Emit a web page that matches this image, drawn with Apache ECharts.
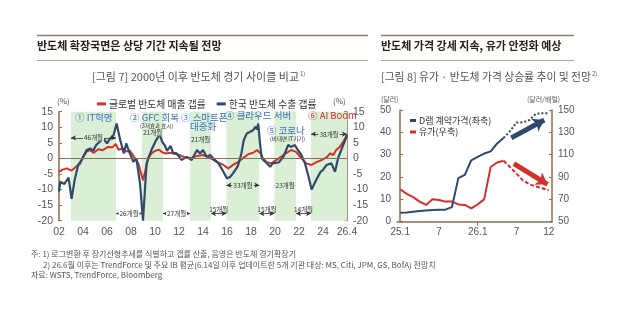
<!DOCTYPE html>
<html>
<head>
<meta charset="utf-8">
<script src="https://cdn.jsdelivr.net/npm/echarts@6/dist/echarts.min.js"></script>
<style>
  html, body { margin: 0; padding: 0; background: #fff; }
  #chart { width: 640px; height: 333px; }
</style>
</head>
<body>
<div id="chart"></div>
<script>
  // [그림 7] 반도체 경기 사이클 : x값은 연도(소수)
  const krX = [2002.0, 2002.1, 2002.45, 2002.8, 2003.05, 2003.3, 2003.6, 2003.9, 2004.3, 2004.6, 2004.85, 2005.1, 2005.4, 2005.7, 2006.0, 2006.25, 2006.55, 2006.8, 2007.1, 2007.4, 2007.6, 2007.9, 2008.2, 2008.45, 2008.75, 2009.0, 2009.3, 2009.7, 2010.1, 2010.4, 2010.6, 2010.8, 2011.0, 2011.3, 2011.5, 2011.8, 2012.2, 2012.65, 2013.05, 2013.5, 2013.75, 2014.0, 2014.3, 2014.6, 2014.85, 2015.3, 2015.7, 2016.0, 2016.25, 2016.5, 2016.9, 2017.2, 2017.4, 2017.65, 2017.9, 2018.2, 2018.35, 2018.5, 2018.6, 2018.75, 2018.9, 2019.2, 2019.6, 2019.8, 2020.3, 2020.7, 2021.1, 2021.35, 2021.65, 2021.9, 2022.2, 2022.5, 2022.8, 2023.05, 2023.5, 2023.8, 2024.0, 2024.3, 2024.7, 2025.0, 2025.25, 2025.55, 2025.8, 2026.0]
  const krGap = [-10.7, -7.5, -8.2, -6.2, -13, -7, -2.1, -0.5, 2.7, 3.2, 2.5, 4.3, 5.4, 6.4, 4.8, 6.4, 7.5, 11.2, 5.9, 1.6, 4.8, 1.6, -1.1, 0, -8, -20, -1.6, 2.7, 5.9, 7.7, 5.3, 4.3, 2.4, 4.0, 1.8, 1.6, -0.5, 0.5, -0.5, 2.7, 1.6, 2.7, 0.5, 1.1, 0, -1.6, -4.3, -6.4, -6, -4.8, -2.5, 1.6, 5.9, 8, 8.5, 9.1, 10.2, 9.3, 11.2, 4.8, 0, -1.1, -2.7, -1.6, -1.3, 0.5, 4.3, 3.7, 4.3, 2.7, 1.1, -1.6, -5.9, -10, -6.4, -4.3, -3.7, -2.1, -1.6, -4.3, 0, 3, 5.4, 7.5]
  const glX = [2002.0, 2002.3, 2002.65, 2003.05, 2003.5, 2003.75, 2004.0, 2004.3, 2004.55, 2004.9, 2005.3, 2005.6, 2006.1, 2006.45, 2006.75, 2006.95, 2007.3, 2007.6, 2007.9, 2008.25, 2008.6, 2009.0, 2009.25, 2009.45, 2009.75, 2010.05, 2010.35, 2010.6, 2010.9, 2011.25, 2011.7, 2012.1, 2012.5, 2013.0, 2013.5, 2014.0, 2014.45, 2014.8, 2015.15, 2015.7, 2016.1, 2016.5, 2016.95, 2017.3, 2017.8, 2018.2, 2018.5, 2018.8, 2019.0, 2019.3, 2019.7, 2020.0, 2020.5, 2020.9, 2021.35, 2021.75, 2022.2, 2022.6, 2023.05, 2023.5, 2023.9, 2024.3, 2024.6, 2024.85, 2025.1, 2025.4, 2025.7, 2026.0]
  const glGap = [-4.3, -3.6, -3.2, -3.9, -2.4, -1.8, 0.5, 2.2, 2.7, 1.8, 3.0, 2.6, 3.7, 3.6, 4.6, 2.8, 3.2, 2.2, 2.5, 0.5, -1.5, -7, -3, 0.3, 1.8, 2.5, 2.8, 2.0, 1.6, 1.8, 1.4, 1.0, 0.3, 0.1, 0.8, 1.1, 0.4, -0.3, -1.1, -2.1, -3.2, -2.1, -1.1, 0, 1.4, 1.8, 2.7, 1.6, 0, -1.2, -1.6, -0.8, 0.5, 1.6, 2.7, 2.1, 0, -1.6, -2.1, -1.1, -0.5, 0.3, 1.6, 1.1, 2.7, 3.7, 5.4, 7.5]

  const cycleStart = [2003.0, 2008.92, 2012.92, 2015.95, 2019.95, 2023.0]
  const cycleEnd = [2006.75, 2010.67, 2014.67, 2018.7, 2021.75, 2026.0]
  const upMonths = [46, 21, 21, 33, 23, 38]
  const downMonths = [26, 27, 15, 15, 14]
  const yearTicks = [2002, 2004, 2006, 2008, 2010, 2012, 2014, 2016, 2018, 2020, 2022, 2024, 2026]
  const yearLabels = ['02', '04', '06', '08', '10', '12', '14', '16', '18', '20', '22', '24', '26.4']

  // [그림 8] 유가 · D램 가격 (월별, 25.1 ~ 26.12)
  const months = ['25.1', '25.2', '25.3', '25.4', '25.5', '25.6', '25.7', '25.8', '25.9', '25.10', '25.11', '25.12',
    '26.1', '26.2', '26.3', '26.4', '26.5', '26.6', '26.7', '26.8', '26.9', '26.10', '26.11', '26.12']
  const dramPrice = [4.0, 4.1, 4.5, 4.8, 5.0, 5.2, 5.3, 5.4, 6.5, 19.5, 21, 27.5, 29, 30.5, 31.5, 35, 37.5, 40.5, 44.4, 44.5, 45.5, 48.3, 48.5, 48.5]
  const oilPrice = [79, 75, 72, 68, 65, 70, 69.5, 68, 68, 65.5, 65, 62, 65.5, 70, 99, 103, 104.5, 99, 93, 87, 83.5, 81.5, 80, 78]
  const monthTicks = [0, 6, 12, 18, 23]
  const monthLabels = ['25.1', '7', '26.1', '7', '12']
  const forecastFrom = 16

  const KR = 'Noto Sans CJK KR'
  const NUM = 'Liberation Sans, Arial, sans-serif'
  const BROWN = '#8d6e4e'
  const NAVY = '#2f4a6a'
  const RED = '#d1302b'
  const GREEN = '#dbeed6'
  const BLUE = '#3a72c2'

  // 화살표 위치(레이아웃)
  const upArrowY = [6.6, 8.2, 6.2, -8.6, -8.6, 7.8]
  const downArrowY = -17.7

  const pairs = (xs, ys) => xs.map((x, i) => [x, ys[i]])
  const idxPairs = (ys) => ys.map((v, i) => [i, v])

  const midLabel = { position: 'middle', distance: 0, verticalAlign: 'middle' }
  const arrowLines = []
  upMonths.forEach((m, i) => {
    arrowLines.push([
      { coord: [cycleStart[i], upArrowY[i]], label: Object.assign({ formatter: m + '개월', backgroundColor: GREEN }, midLabel) },
      { coord: [cycleEnd[i], upArrowY[i]] }
    ])
  })
  downMonths.forEach((m, i) => {
    const above = i >= 2
    arrowLines.push([
      { coord: [cycleEnd[i], downArrowY],
        label: above ? { formatter: m + '개월', position: 'insideMiddleTop', distance: 1, backgroundColor: 'transparent' }
                     : Object.assign({ formatter: m + '개월', backgroundColor: '#fff' }, midLabel) },
      { coord: [cycleStart[i + 1], downArrowY] }
    ])
  })

  const chart = echarts.init(document.getElementById('chart'))

  const txt = (x, y, text, style) => ({
    type: 'text', left: x, top: y, z: 100,
    style: Object.assign({ text: text, font: '10px ' + KR, fill: '#333' }, style)
  })
  const hline = (x1, x2, y, color, w) => ({
    type: 'line', z: 100, shape: { x1: x1, y1: y, x2: x2, y2: y }, style: { stroke: color, lineWidth: w }
  })

  chart.setOption({
    animation: false,
    textStyle: { fontFamily: KR },
    grid: [
      { left: 59, top: 111.7, width: 288, height: 109 },
      { left: 397, top: 110, width: 155, height: 111.7 }
    ],
    legend: [
      {
        data: ['글로벌 반도체 매출 갭률', '한국 반도체 수출 갭률'],
        left: 92, top: 94, icon: 'rect', itemWidth: 9, itemHeight: 3, itemGap: 11,
        textStyle: { fontSize: 9.8, color: '#333', fontFamily: KR, padding: [0, 0, 0, -2] }
      },
      {
        data: ['D램 계약가격(좌축)', '유가(우축)'],
        orient: 'vertical', left: 405, top: 111, icon: 'rect', itemWidth: 6, itemHeight: 3, itemGap: 2.5,
        textStyle: { fontSize: 9, color: '#333', fontFamily: KR, padding: [0, 0, 0, -2] }
      }
    ],
    xAxis: [
      {
        type: 'value', gridIndex: 0, min: 2002, max: 2026,
        axisLine: { show: false }, axisTick: { show: false }, splitLine: { show: false },
        axisLabel: {
          customValues: yearTicks, margin: 6, fontSize: 10.5, color: '#555', fontFamily: NUM,
          formatter: v => yearLabels[yearTicks.indexOf(v)]
        }
      },
      {
        type: 'value', gridIndex: 1, min: -0.5, max: 23.5,
        axisLine: { show: true, lineStyle: { color: BROWN, width: 1.5 } },
        axisTick: { show: true, customValues: [12], length: 4, inside: false, lineStyle: { color: BROWN } },
        splitLine: { show: false },
        axisLabel: {
          customValues: monthTicks, margin: 6, fontSize: 10, color: '#555', fontFamily: NUM,
          formatter: v => monthLabels[monthTicks.indexOf(v)]
        }
      }
    ],
    yAxis: [
      {
        type: 'value', gridIndex: 0, min: -20, max: 15, interval: 5,
        axisLine: { show: true, lineStyle: { color: BROWN, width: 1.5 } },
        axisTick: { show: true, inside: true, length: 3, lineStyle: { color: BROWN } },
        splitLine: { show: false },
        axisLabel: { fontSize: 10.5, color: '#555', fontFamily: NUM, margin: 6 }
      },
      {
        type: 'value', gridIndex: 0, min: -20, max: 15, interval: 5, position: 'right',
        axisLine: { show: true, lineStyle: { color: BROWN, width: 1.5 } },
        axisTick: { show: true, inside: true, length: 3, lineStyle: { color: BROWN } },
        splitLine: { show: false },
        axisLabel: { fontSize: 10.5, color: '#555', fontFamily: NUM, margin: 6 }
      },
      {
        type: 'value', gridIndex: 1, min: 0, max: 50, interval: 10,
        axisLine: { show: true, lineStyle: { color: BROWN, width: 1.5 } },
        axisTick: { show: true, inside: true, length: 3, lineStyle: { color: BROWN } },
        splitLine: { show: false },
        axisLabel: { fontSize: 10, color: '#555', fontFamily: NUM, margin: 6 }
      },
      {
        type: 'value', gridIndex: 1, min: 50, max: 150, interval: 20, position: 'right',
        axisLine: { show: true, lineStyle: { color: BROWN, width: 1.5 } },
        axisTick: { show: true, inside: true, length: 3, lineStyle: { color: BROWN } },
        splitLine: { show: false },
        axisLabel: { fontSize: 10, color: '#555', fontFamily: NUM, margin: 6 }
      }
    ],
    series: [
      {
        name: 'shade', type: 'line', xAxisIndex: 0, yAxisIndex: 0, data: [], z: 1,
        markArea: {
          silent: true, itemStyle: { color: GREEN },
          data: cycleStart.map((s, i) => [{ xAxis: s }, { xAxis: cycleEnd[i] }])
        },
        markLine: {
          silent: true, symbol: 'none', label: { show: false },
          lineStyle: { color: BROWN, width: 1, type: 'solid' },
          data: [{ yAxis: 0 }]
        }
      },
      {
        name: '글로벌 반도체 매출 갭률', type: 'line', xAxisIndex: 0, yAxisIndex: 0, z: 3,
        data: pairs(glX, glGap), showSymbol: false, symbol: 'none',
        lineStyle: { color: RED, width: 2 }, itemStyle: { color: RED }
      },
      {
        name: '한국 반도체 수출 갭률', type: 'line', xAxisIndex: 0, yAxisIndex: 0, z: 4,
        data: pairs(krX, krGap), showSymbol: false, symbol: 'none',
        lineStyle: { color: NAVY, width: 2.2 }, itemStyle: { color: NAVY }
      },
      {
        name: 'arrows', type: 'line', xAxisIndex: 0, yAxisIndex: 0, data: [], z: 5,
        markLine: {
          silent: true, symbol: ['arrow', 'arrow'], symbolSize: [4, 5],
          lineStyle: { color: '#333', width: 0.8, type: 'solid' },
          label: { show: true, fontSize: 6.5, color: '#333', padding: [0, 1], fontFamily: KR },
          data: arrowLines
        }
      },
      {
        name: 'D램 계약가격(좌축)', type: 'line', xAxisIndex: 1, yAxisIndex: 2, z: 4,
        data: idxPairs(dramPrice).slice(0, forecastFrom + 1), symbol: 'none',
        lineStyle: { color: NAVY, width: 2 }, itemStyle: { color: NAVY }
      },
      {
        name: 'D램 계약가격(좌축)', type: 'line', xAxisIndex: 1, yAxisIndex: 2, z: 4,
        data: idxPairs(dramPrice).slice(forecastFrom), symbol: 'none',
        lineStyle: { color: NAVY, width: 2, type: [2, 2] }, itemStyle: { color: NAVY }
      },
      {
        name: '유가(우축)', type: 'line', xAxisIndex: 1, yAxisIndex: 3, z: 3,
        data: idxPairs(oilPrice).slice(0, forecastFrom + 1), symbol: 'none',
        lineStyle: { color: RED, width: 2 }, itemStyle: { color: RED }
      },
      {
        name: '유가(우축)', type: 'line', xAxisIndex: 1, yAxisIndex: 3, z: 3,
        data: idxPairs(oilPrice).slice(forecastFrom), symbol: 'none',
        lineStyle: { color: RED, width: 2, type: [4, 2] }, itemStyle: { color: RED }
      },
      {
        name: 'dramArrow', type: 'line', xAxisIndex: 1, yAxisIndex: 2, data: [], z: 6,
        markLine: {
          silent: true, symbol: ['none', 'arrow'], symbolSize: 11, label: { show: false },
          lineStyle: { color: NAVY, width: 5, type: 'solid' },
          data: [[{ coord: [17.2, 37.5] }, { coord: [22.3, 45.5] }]]
        }
      },
      {
        name: 'oilArrow', type: 'line', xAxisIndex: 1, yAxisIndex: 3, data: [], z: 6,
        markLine: {
          silent: true, symbol: ['none', 'arrow'], symbolSize: 11, label: { show: false },
          lineStyle: { color: RED, width: 5, type: 'solid' },
          data: [[{ coord: [17.6, 102] }, { coord: [22.8, 83.5] }]]
        }
      }
    ],
    graphic: [
      hline(37, 368, 35.5, '#8a7a69', 1.5),
      hline(37, 368, 60.5, '#b4a897', 1),
      hline(381, 574, 35.5, '#8a7a69', 1.5),
      hline(381, 574, 60.5, '#b4a897', 1),
      txt(37, 40.5, '반도체 확장국면은 상당 기간 지속될 전망', { font: 'bold 11px ' + KR, fill: '#222' }),
      txt(381, 40.5, '반도체 가격 강세 지속, 유가 안정화 예상', { font: 'bold 11px ' + KR, fill: '#222' }),
      {
        type: 'text', left: 92, top: 70.5, z: 100,
        style: {
          text: '{t|[그림 7] 2000년 이후 반도체 경기 사이클 비교}{s|1)}',
          rich: { t: { font: '11px ' + KR, fill: '#555' }, s: { font: '6px ' + KR, fill: '#555', verticalAlign: 'top', padding: [0, 0, 6, 1] } }
        }
      },
      {
        type: 'text', left: 381, top: 70.5, z: 100,
        style: {
          text: '{t|[그림 8] 유가 · 반도체 가격 상승률 추이 및 전망}{s|2)}',
          rich: { t: { font: '10.8px ' + KR, fill: '#555' }, s: { font: '6px ' + KR, fill: '#555', verticalAlign: 'top', padding: [0, 0, 6, 1] } }
        }
      },
      txt(57, 97, '(%)', { font: '8px ' + KR, fill: '#555' }),
      txt(333, 97, '(%)', { font: '8px ' + KR, fill: '#555' }),
      txt(381, 96, '(달러)', { font: '7px ' + KR, fill: '#555' }),
      txt(527, 96, '(달러/배럴)', { font: '7px ' + KR, fill: '#555' }),
      txt(75, 112.5, '① IT혁명', { font: '9.5px ' + KR, fill: BLUE }),
      txt(130, 112.5, '② GFC 회복', { font: '9.5px ' + KR, fill: BLUE }),
      txt(140, 123.5, '(3저효과 효시)', { font: '5.5px ' + KR, fill: '#333' }),
      txt(181, 112.5, '③ 스마트폰', { font: '9.5px ' + KR, fill: BLUE }),
      txt(190, 121.5, '대중화', { font: '9.5px ' + KR, fill: BLUE }),
      txt(225, 111, '④ 클라우드 서버', { font: '9.5px ' + KR, fill: BLUE }),
      txt(267, 126, '⑤ 코로나', { font: '9.5px ' + KR, fill: BLUE }),
      txt(270, 136.5, '(비대면 IT기기)', { font: '5.5px ' + KR, fill: '#333' }),
      txt(308, 111, '⑥ AI Boom', { font: '9.5px ' + KR, fill: RED }),
      txt(31, 250, '주: 1) 로그변환 후 장기선형추세를 식별하고 갭률 산출, 음영은 반도체 경기확장기', { font: '8px ' + KR, fill: '#555' }),
      txt(43, 261, '2) 26.6월 이후는 TrendForce 및 주요 IB 평균(6.14일 이후 업데이트한 5개 기관 대상: MS, Citi, JPM, GS, BofA) 전망치', { font: '8px ' + KR, fill: '#555' }),
      txt(31, 271, '자료: WSTS, TrendForce, Bloomberg', { font: '8px ' + KR, fill: '#555' })
    ]
  })
</script>
</body>
</html>
